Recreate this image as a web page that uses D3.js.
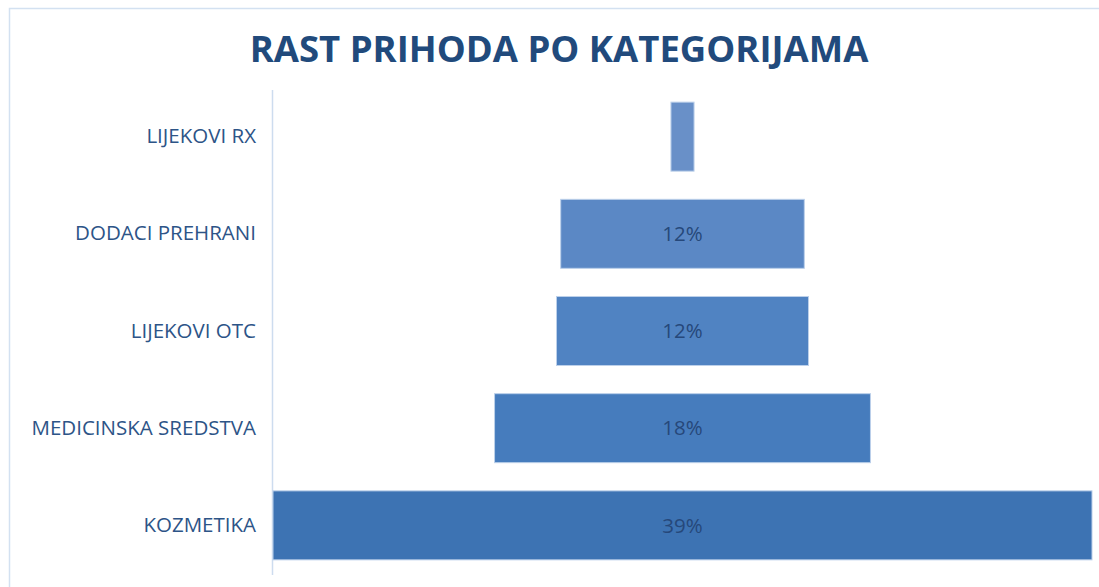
<!DOCTYPE html>
<html>
<head>
<meta charset="utf-8">
<script src="https://cdn.jsdelivr.net/npm/d3@7"></script>
<style>
  body { margin: 0; background: white; }
  text { font-family: "Open Sans", sans-serif; }
</style>
</head>
<body>
<div id="chart"></div>
<script>
let w = 1099;
let h = 587;

// data (percent growth)
let categories = ["LIJEKOVI RX", "DODACI PREHRANI", "LIJEKOVI OTC", "MEDICINSKA SREDSTVA", "KOZMETIKA"];
let values = [1.1, 11.6, 12.0, 17.9, 39.0];
let barColors = ["#6990c8", "#5b88c5", "#5083c2", "#467cbd", "#3d73b3"];

let data = categories.map((c, i) => ({ name: c, value: values[i], color: barColors[i] }));

let svg = d3.select("#chart")
  .append("svg")
  .attr("width", w)
  .attr("height", h)
  ;

// outer chart border (only top and left visible)
svg.append("rect")
  .attr("x", 9.5)
  .attr("y", 8.5)
  .attr("width", w + 20)
  .attr("height", h + 20)
  .attr("fill", "none")
  .attr("stroke", "#d3e1f1")
  .attr("stroke-width", 1.5)
  ;

svg.append("text")
  .attr("x", 559)
  .attr("y", 62)
  .attr("text-anchor", "middle")
  .attr("font-size", 36.5)
  .attr("font-weight", "bold")
  .attr("fill", "#214a7c")
  .text("RAST PRIHODA PO KATEGORIJAMA")
  ;

let plotLeft = 273;
let plotRight = 1092;
let plotTop = 90;
let plotBottom = 572;
let center = (plotLeft + plotRight) / 2;

let xScale = d3.scaleLinear()
  .domain([0, d3.max(values)])
  .range([0, plotRight - plotLeft]);

let yScale = d3.scaleBand()
  .domain(categories)
  .range([plotTop, plotBottom])
  .paddingInner(0.29)
  .paddingOuter(0.125);

// vertical category axis line
svg.append("line")
  .attr("x1", plotLeft - 0.5)
  .attr("x2", plotLeft - 0.5)
  .attr("y1", plotTop)
  .attr("y2", 575)
  .attr("stroke", "#cddcef")
  .attr("stroke-width", 1.5)
  ;

let yAxis = d3.axisLeft(yScale).tickSize(0).tickPadding(17);
let yAxisGroup = svg.append("g")
  .attr("transform", "translate(" + plotLeft + ",0)")
  .call(yAxis);
yAxisGroup.select(".domain").remove();
yAxisGroup.selectAll("text")
  .attr("font-size", 20.5)
  .attr("fill", "#2d5487")
  .style("font-family", "'Open Sans', sans-serif")
  ;

let bars = svg.append("g").selectAll("g.bar")
  .data(data)
  .enter()
  .append("g")
  .attr("class", "bar");

bars.append("rect")
  .attr("x", d => center - xScale(d.value) / 2)
  .attr("y", d => yScale(d.name))
  .attr("width", d => xScale(d.value))
  .attr("height", yScale.bandwidth())
  .attr("fill", d => d.color)
  .attr("stroke", "#bcd0ea")
  .attr("stroke-width", 1)
  ;

let fmt = d => Math.round(d) + "%";

bars.filter(d => xScale(d.value) > 50)
  .append("text")
  .attr("x", center)
  .attr("y", d => yScale(d.name) + yScale.bandwidth() / 2)
  .attr("dy", "0.35em")
  .attr("text-anchor", "middle")
  .attr("font-size", 20.5)
  .attr("fill", "#26487a")
  .text(d => fmt(d.value))
  ;
</script>
</body>
</html>
